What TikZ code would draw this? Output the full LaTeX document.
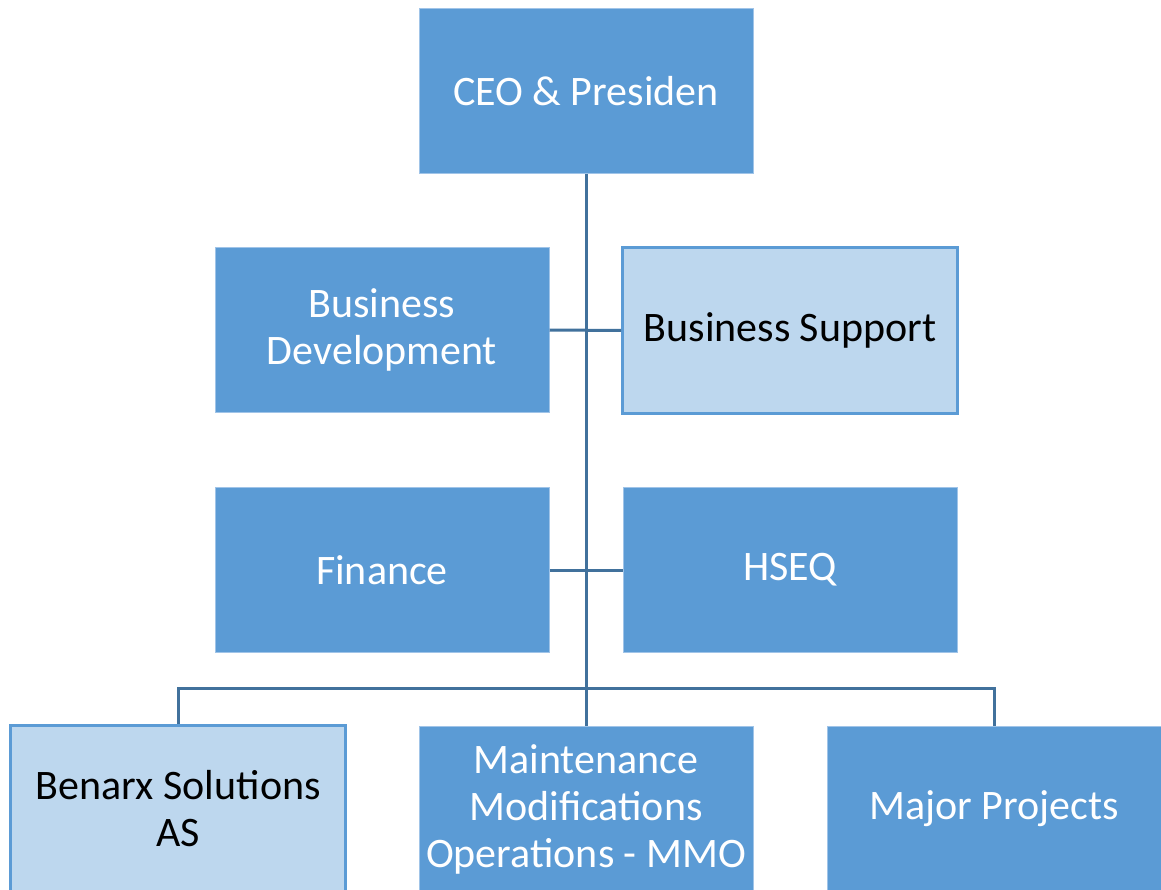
\documentclass[tikz,border=0pt]{standalone}
\usepackage{fontspec}
\setmainfont{Carlito}
\definecolor{darkbox}{RGB}{91,155,213}
\definecolor{lightbox}{RGB}{189,215,238}
\definecolor{boxedge}{RGB}{160,196,232}
\definecolor{conn}{RGB}{65,113,156}
\begin{document}
\begin{tikzpicture}[x=1pt,y=-1pt,
  unit/.style={rectangle,minimum width=334pt,minimum height=165pt,inner sep=0pt,
    align=center,font=\fontsize{42}{47}\selectfont},
  darkunit/.style={unit,fill=darkbox,draw=boxedge,line width=1pt,text=white},
  lightunit/.style={unit,minimum width=335pt,minimum height=166pt,fill=lightbox,draw=darkbox,line width=3pt,text=black},
  link/.style={draw=conn,line width=3pt}]
\useasboundingbox (0,0) rectangle (1161,890);
\node[darkunit] (ceo) at (586,91) {CEO \& Presiden};
\node[darkunit] (bd) at (382,330) {Business\\Development};
\node[lightunit] (bs) at (790,330.5) {Business Support};
\node[darkunit] (fin) at (382,570) {Finance};
\node[darkunit] (hseq) at (790,570) {HSEQ};
\node[lightunit] (ben) at (178,808.5) {Benarx Solutions\\AS};
\node[darkunit] (mmo) at (586,809) {Maintenance\\Modifications\\Operations - MMO};
\node[darkunit] (maj) at (994,809) {Major Projects};
\coordinate (bus) at (586,688);
\path[link] (ceo.south) -- (mmo.north);
\path[link] (bd.east) -- (bs.west);
\path[link] (fin.east) -- (hseq.west);
\path[link] (ben.north) |- (bus) -| (maj.north);
\end{tikzpicture}
\end{document}
